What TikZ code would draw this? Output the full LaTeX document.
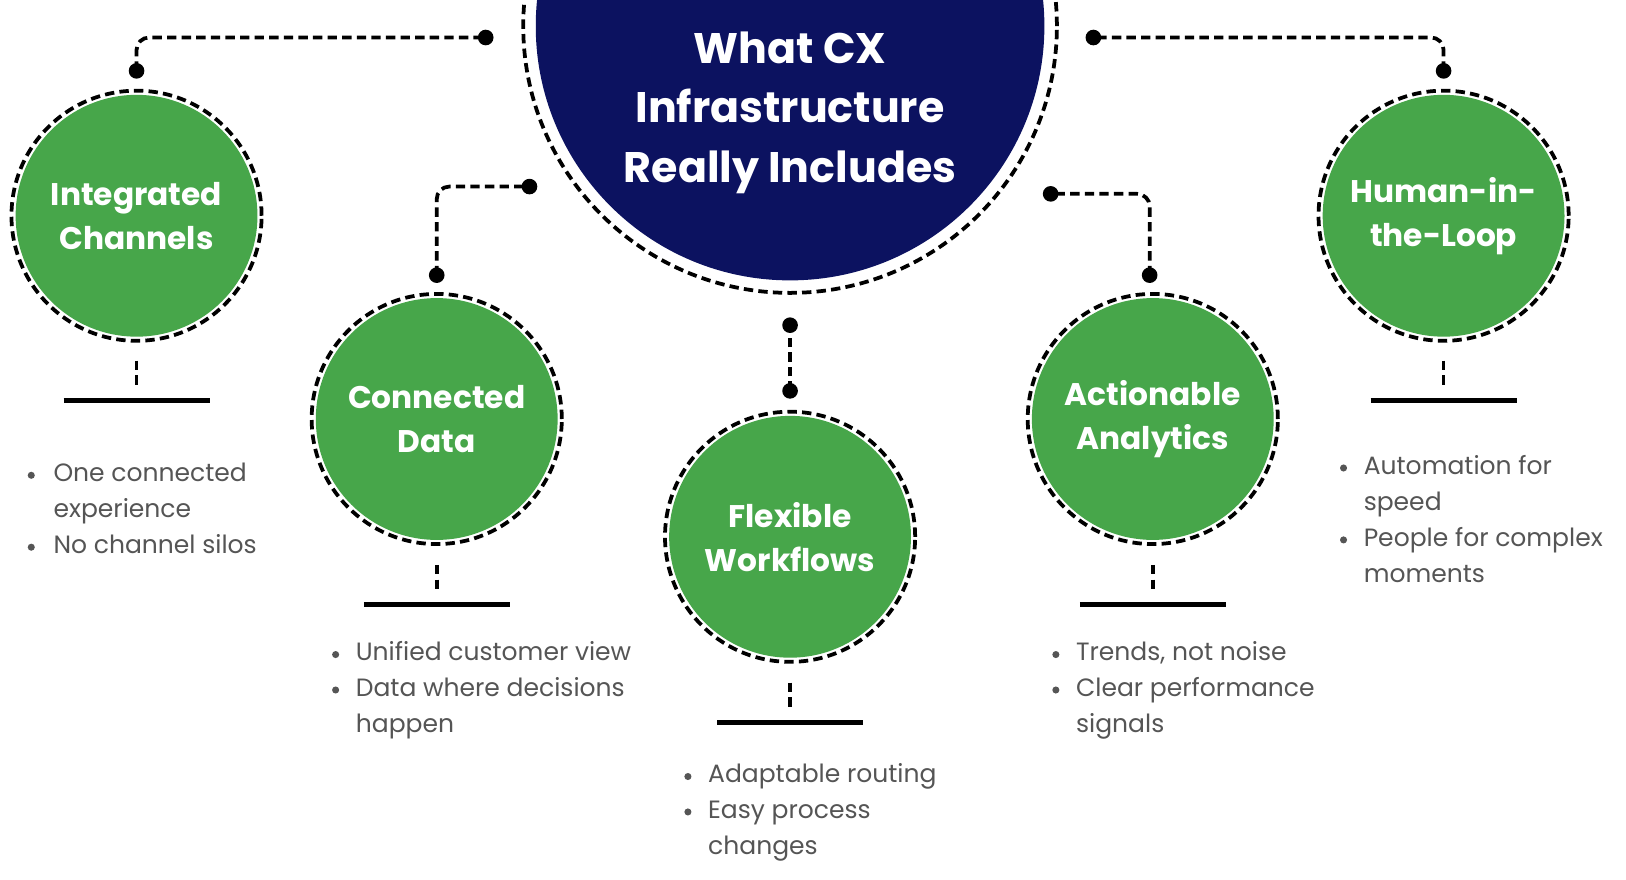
\documentclass[tikz,border=0pt]{standalone}
\usepackage{fontspec}
\setmainfont{Poppins}
\newcommand{\blines}[1]{\begin{tabular}[t]{@{}l@{}}#1\end{tabular}}
\begin{document}
\begin{tikzpicture}[x=0.5pt,y=-0.5pt,
  ring/.style={draw=black,line width=1.8pt,dash pattern=on 4.5pt off 2.5pt},
  conn/.style={draw=black,line width=1.8pt,dash pattern=on 4.5pt off 2.5pt,rounded corners=6pt},
  gc/.style={circle,fill=cgreen,minimum size=116pt,inner sep=0pt,text=white,align=center,font=\bfseries\fontsize{15}{21}\selectfont},
  bar/.style={line width=2.5pt},
  stub/.style={line width=1.8pt,dash pattern=on 4.5pt off 2.5pt},
  bul/.style={anchor=base west,inner sep=0pt,text=tgray,font=\fontsize{12}{17.25}\selectfont},
  dot/.style={circle,fill=black,inner sep=0pt,minimum size=7.5pt}]
\definecolor{cgreen}{HTML}{47A64A}
\definecolor{navy}{HTML}{0C1260}
\definecolor{tgray}{HTML}{555555}
\useasboundingbox (0,0) rectangle (1560,844);
% main circle
\fill[navy] (758,25) circle (122pt);
\draw[ring] (758,25) circle (128pt);
\node[text=white,align=center,font=\bfseries\fontsize{20.5}{28.5}\selectfont] (title) at (758,108) {What CX\\Infrastructure\\Really Includes};
% green circles
\node[gc] (c1) at (131,207) {Integrated\\Channels};
\node[gc] (c2) at (419,402) {Connected\\Data};
\node[gc] (c3) at (758,515) {Flexible\\Workflows};
\node[gc] (c4) at (1106,402) {Actionable\\Analytics};
\node[gc] (c5) at (1385,207) {Human-in-\\the-Loop};
\foreach \c in {c1,c2,c3,c4,c5}{\draw[ring] (\c.center) circle (60pt);}
% dots
\node[dot] (a1) at (131,68) {}; \node[dot] (b1) at (466,36) {};
\node[dot] (a2) at (419,264) {}; \node[dot] (b2) at (508,179) {};
\node[dot] (a3) at (758,375) {}; \node[dot] (b3) at (758,312) {};
\node[dot] (a4) at (1103,264) {}; \node[dot] (b4) at (1008,186) {};
\node[dot] (a5) at (1385,68) {}; \node[dot] (b5) at (1049,36) {};
\draw[conn] (a1.center) |- (b1.center);
\draw[conn] (a2.center) |- (b2.center);
\draw[conn] (a3.center) -- (b3.center);
\draw[conn] (a4.center) |- (b4.center);
\draw[conn] (a5.center) |- (b5.center);
% stubs and bars
\foreach \x/\y in {131/346,419/542,758/655,1106/542,1385/346}{
  \coordinate (s\x) at (\x,\y);
  \coordinate (t\x) at (\x,\y+26);
  \draw[stub] (s\x) -- (t\x);
  \coordinate (l\x) at (\x-70,\y+38);
  \coordinate (r\x) at (\x+70,\y+38);
  \draw[bar] (l\x) -- (r\x);
}
% bullets
\foreach \x/\y in {30/462,30/531,322/634,322/668,660/751,660/785,1013/634,1013/668,1289/455,1289/524}{
  \fill[tgray] (\x,\y-6) circle (1.7pt);}
\node[bul] (i1) at (51,462) {\blines{One connected\\experience}};
\node[bul] (i2) at (51,531) {\blines{No channel silos}};
\node[bul] (j1) at (341,634) {\blines{Unified customer view}};
\node[bul] (j2) at (341,668) {\blines{Data where decisions\\happen}};
\node[bul] (k1) at (679,751) {\blines{Adaptable routing}};
\node[bul] (k2) at (679,785) {\blines{Easy process\\changes}};
\node[bul] (m1) at (1032,634) {\blines{Trends, not noise}};
\node[bul] (m2) at (1032,668) {\blines{Clear performance\\signals}};
\node[bul] (n1) at (1308,455) {\blines{Automation for\\speed}};
\node[bul] (n2) at (1308,524) {\blines{People for complex\\moments}};
\end{tikzpicture}
\end{document}
